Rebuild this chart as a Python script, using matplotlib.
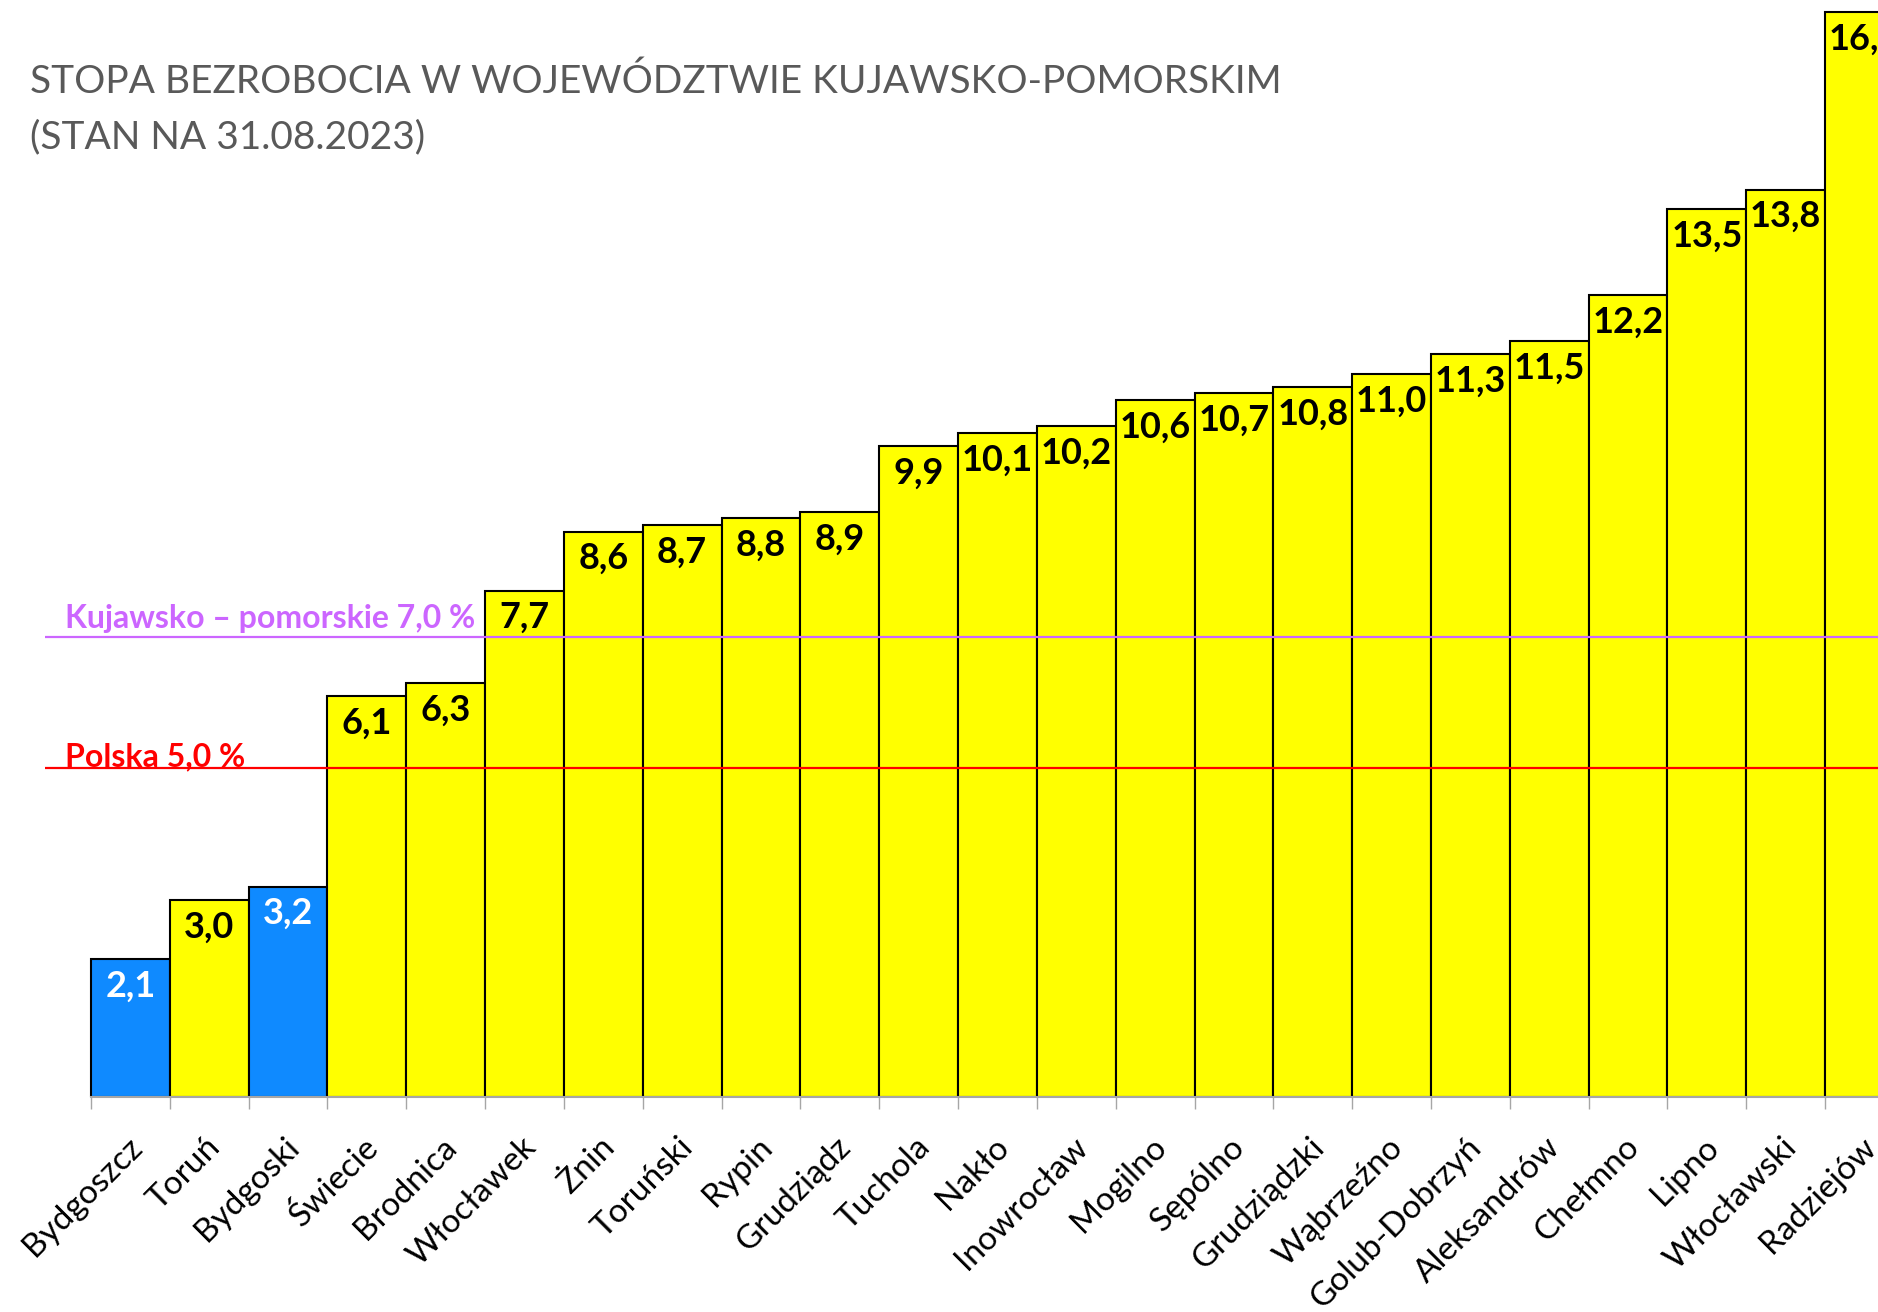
import matplotlib
matplotlib.use('Agg')
import matplotlib.pyplot as plt
import numpy as np

# powiaty / miasta (stan na 31.08.2023)
regions = ['Bydgoszcz', 'Toruń', 'Bydgoski', 'Świecie', 'Brodnica', 'Włocławek',
           'Żnin', 'Toruński', 'Rypin', 'Grudziądz', 'Tuchola', 'Nakło',
           'Inowrocław', 'Mogilno', 'Sępólno', 'Grudziądzki', 'Wąbrzeźno',
           'Golub-Dobrzyń', 'Aleksandrów', 'Chełmno', 'Lipno', 'Włocławski',
           'Radziejów']
rates = [2.1, 3.0, 3.2, 6.1, 6.3, 7.7, 8.6, 8.7, 8.8, 8.9, 9.9, 10.1,
         10.2, 10.6, 10.7, 10.8, 11.0, 11.3, 11.5, 12.2, 13.5, 13.8, 16.5]
blue_regions = ['Bydgoszcz', 'Bydgoski']

ref_labels = ['Kujawsko – pomorskie 7,0 %', 'Polska 5,0 %']
ref_values = [7.0, 5.0]
ref_colors = ['#CC66FF', '#FF0000']
ref_text_lift = [9, 2]   # px above the line

YELLOW = '#FFFF00'
BLUE = '#0F8AFF'
FONT = 'Lato'

plt.rcParams['font.family'] = [FONT, 'DejaVu Sans']

fig = plt.figure(figsize=(18.78, 13.12), dpi=100)
ax = fig.add_axes([0.02412, 0.16387, 0.98967, 0.8369])

x = np.arange(len(regions))
colors = [BLUE if r in blue_regions else YELLOW for r in regions]
ax.bar(x, rates, width=1.0, color=colors, edgecolor='black', linewidth=1.5, zorder=2)

for xi, val, r in zip(x, rates, regions):
    ax.annotate(f'{val:.1f}'.replace('.', ','), (xi, val), xytext=(0, -27),
                textcoords='offset pixels', ha='center', va='center',
                fontsize=26, fontweight='bold',
                color='white' if r in blue_regions else 'black',
                zorder=5, annotation_clip=False)

for lab, val, col, lift in zip(ref_labels, ref_values, ref_colors, ref_text_lift):
    ax.axhline(val, color=col, linewidth=1.6, zorder=3)
    ax.annotate(lab, (-1.08, val), xytext=(20, lift), textcoords='offset pixels',
                ha='left', va='baseline', fontsize=23, fontweight='bold',
                color=col, zorder=4)

# category labels under bars
for xi, r in zip(x, regions):
    ax.annotate(r, (xi, 0), xytext=(-4, -35), textcoords='offset pixels',
                ha='right', va='top', rotation=45, rotation_mode='anchor',
                fontsize=24, color='black', annotation_clip=False)

ax.set_xlim(-1.08, len(regions) - 0.5)
ax.set_ylim(0, 16.7)
for s in ['left', 'right', 'top']:
    ax.spines[s].set_visible(False)
ax.spines['bottom'].set_color('#A6A6A6')
ax.spines['bottom'].set_linewidth(1.5)
ax.spines['bottom'].set_bounds(-0.5, len(regions) - 0.5)
ax.set_xticks(np.arange(len(regions) + 1) - 0.5)
ax.set_xticklabels([])
ax.tick_params(axis='x', length=8.6, width=1, color='#A6A6A6', direction='out')
ax.set_yticks([])

fig.text(30 / 1878, 1 - 93 / 1312, 'STOPA BEZROBOCIA W WOJEWÓDZTWIE KUJAWSKO-POMORSKIM',
         fontsize=28, color='#595959', ha='left', va='baseline')
fig.text(30 / 1878, 1 - 148 / 1312, '(STAN NA 31.08.2023)',
         fontsize=28, color='#595959', ha='left', va='baseline')

fig.savefig('out.png', dpi=100)
